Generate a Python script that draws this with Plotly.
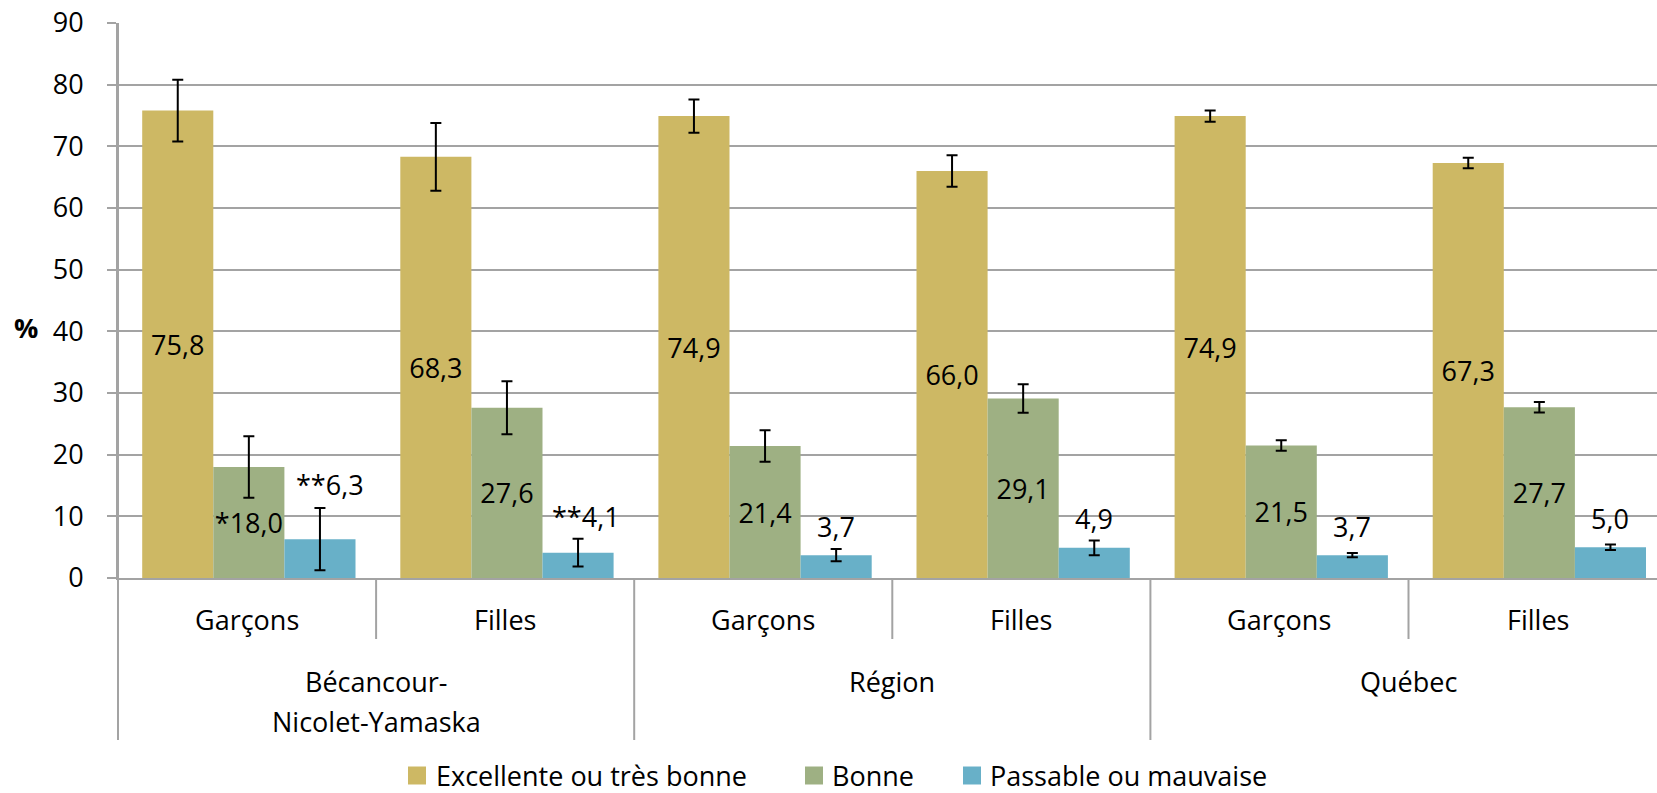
import plotly.graph_objects as go

# Survey results: perceived health by sex and territory (% with 95% CI half-widths)
territories = ["Bécancour-<br>Nicolet-Yamaska", "Région", "Québec"]
sexes = ["Garçons", "Filles", "Garçons", "Filles", "Garçons", "Filles"]

series_names = ["Excellente ou très bonne", "Bonne", "Passable ou mauvaise"]
excellente = [75.8, 68.3, 74.9, 66.0, 74.9, 67.3]
bonne = [18.0, 27.6, 21.4, 29.1, 21.5, 27.7]
passable = [6.3, 4.1, 3.7, 4.9, 3.7, 5.0]

excellente_err = [5.0, 5.5, 2.7, 2.55, 0.9, 0.85]
bonne_err = [5.0, 4.3, 2.55, 2.3, 0.85, 0.85]
passable_err = [5.05, 2.25, 1.0, 1.2, 0.35, 0.45]

# Precision markers (* interpret with caution, ** imprecise estimate)
excellente_flag = ["", "", "", "", "", ""]
bonne_flag = ["*", "", "", "", "", ""]
passable_flag = ["**", "**", "", "", "", ""]

colors = ["#CDB864", "#9EB083", "#68B0C8"]
y_ticks = [0, 10, 20, 30, 40, 50, 60, 70, 80, 90]

# ---- layout geometry (pixels) ----
W, H = 1657, 793
PLOT_L, PLOT_T, PLOT_B = 118, 23, 578
CAT_PX = 258.1
BAR_W = 71.1 / CAT_PX
FIRST_OFFSET = -0.5 + 24.2 / CAT_PX
X_END = -0.5 + (W - PLOT_L) / CAT_PX
FONT = "Open Sans"
FS = 27
GRID = "#A3A3A3"

# vertical lift of the "Passable" value labels above their bar
passable_label_lift = [8.8, 5.8, 4.7, 4.7, 4.7, 4.7]
passable_label_xshift = [10, 8, 0, 0, 0, 0]


def py(y):
    return (PLOT_B - y) / (PLOT_B - PLOT_T)


def pxp(x):
    return (x - PLOT_L) / (W - PLOT_L)


def fmt(v):
    return f"{v:.1f}".replace(".", ",")


xs = list(range(len(sexes)))
fig = go.Figure()

all_vals = [excellente, bonne, passable]
all_errs = [excellente_err, bonne_err, passable_err]
all_flags = [excellente_flag, bonne_flag, passable_flag]

for i, (name, vals, errs, flags, col) in enumerate(
        zip(series_names, all_vals, all_errs, all_flags, colors)):
    inside = i < 2
    fig.add_trace(go.Bar(
        x=xs, y=vals, name=name,
        width=BAR_W, offset=FIRST_OFFSET + i * BAR_W,
        marker=dict(color=col, line=dict(width=0)),
        error_y=dict(type="data", array=errs, visible=True,
                     color="black", thickness=2, width=5.5),
        text=[f + fmt(v) for f, v in zip(flags, vals)] if inside else None,
        textposition="inside" if inside else "none",
        insidetextanchor="middle", textangle=0, constraintext="none",
        textfont=dict(family=FONT, size=FS, color="black"),
        showlegend=False, hoverinfo="skip",
    ))

annotations = []
shapes = []

# value labels above the small bars
blue_center = FIRST_OFFSET + 2.5 * BAR_W
for x, v, f, lift, dx in zip(xs, passable, passable_flag,
                             passable_label_lift, passable_label_xshift):
    annotations.append(dict(
        x=x + blue_center, y=v + lift, xref="x", yref="y",
        text=f + fmt(v), showarrow=False, xshift=dx,
        xanchor="center", yanchor="middle",
        font=dict(family=FONT, size=FS, color="black")))

# inner category labels and separators
for x, s in zip(xs, sexes):
    annotations.append(dict(
        x=x, y=py(619.5), xref="x", yref="paper", text=s, showarrow=False,
        xanchor="center", yanchor="middle",
        font=dict(family=FONT, size=FS, color="black")))

for k in range(1, len(sexes)):
    bottom = 740 if k % 2 == 0 else 639
    shapes.append(dict(type="line", xref="x", yref="paper",
                       x0=k - 0.5, x1=k - 0.5, y0=0, y1=py(bottom),
                       line=dict(color=GRID, width=2)))

# left axis continues down through the category band
shapes.append(dict(type="line", xref="paper", yref="paper",
                   x0=0, x1=0, y0=1, y1=py(740),
                   line=dict(color=GRID, width=2)))

# outer (territory) labels
outer_lines = [["Bécancour-", "Nicolet-Yamaska"], ["Région"], ["Québec"]]
for g, lines in enumerate(outer_lines):
    cx = 2 * g + 0.5
    ys = [681.7, 721.7][:len(lines)]
    for txt, yy in zip(lines, ys):
        annotations.append(dict(
            x=cx, y=py(yy), xref="x", yref="paper", text=txt,
            showarrow=False, xanchor="center", yanchor="middle",
            font=dict(family=FONT, size=FS, color="black")))

# y-axis title
annotations.append(dict(
    x=pxp(26), y=py(327.5), xref="paper", yref="paper", text="<b>%</b>",
    showarrow=False, xanchor="center", yanchor="middle",
    font=dict(family=FONT, size=FS, color="black")))

# legend
LEG_Y = 775.5
legend_items = [(408, 434), (805, 830), (963, 988)]
for (sq_x, tx), name, col in zip(legend_items, series_names, colors):
    shapes.append(dict(type="rect", xref="paper", yref="paper",
                       x0=pxp(sq_x), x1=pxp(sq_x + 18),
                       y0=py(LEG_Y + 9), y1=py(LEG_Y - 9),
                       fillcolor=col, line=dict(width=0)))
    annotations.append(dict(
        x=pxp(tx), y=py(LEG_Y), xref="paper", yref="paper", text=name,
        showarrow=False, xanchor="left", yanchor="middle",
        font=dict(family=FONT, size=FS, color="black")))

fig.update_layout(
    width=W, height=H,
    margin=dict(l=PLOT_L, r=0, t=PLOT_T, b=H - PLOT_B, pad=0),
    paper_bgcolor="white", plot_bgcolor="white",
    barmode="overlay",
    xaxis=dict(range=[-0.5, X_END], showticklabels=False, ticks="",
               showgrid=False, zeroline=False,
               showline=True, linecolor=GRID, linewidth=2),
    yaxis=dict(range=[0, 90], tickvals=y_ticks,
               ticktext=[str(t) for t in y_ticks],
               showgrid=True, gridcolor=GRID, gridwidth=2,
               zeroline=False, showline=True, linecolor=GRID, linewidth=2,
               ticks="outside", ticklen=9, tickcolor=GRID, tickwidth=2,
               ticklabelstandoff=18,
               tickfont=dict(family=FONT, size=FS, color="black")),
    annotations=annotations, shapes=shapes,
)

fig.write_html("out.html")
